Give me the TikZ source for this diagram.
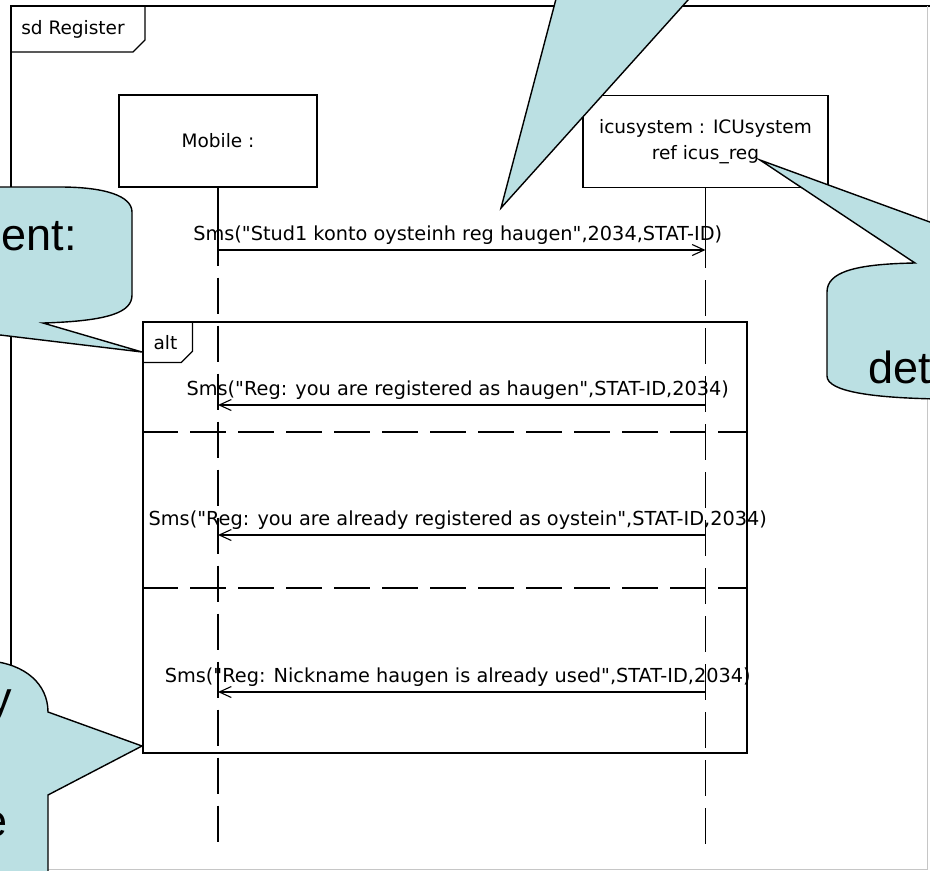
\documentclass[tikz,border=0pt]{standalone}
\usepackage{fontspec}
\setmainfont{DejaVu Sans}[Ligatures=TeXOff]
\newfontfamily\notefont{Liberation Sans}
\usetikzlibrary{arrows.meta, positioning, calc}
\definecolor{noteblue}{RGB}{187, 224, 227}

\begin{document}
\begin{tikzpicture}[x=1pt, y=-1pt,
  every node/.style={font=\fontsize{18.5}{26}\selectfont},
  umlline/.style={line width=1.2pt},
  lifebox/.style={draw, line width=1.2pt, minimum height=92pt, align=center, inner sep=0pt},
  fragbox/.style={draw, line width=1.2pt, inner sep=0pt},
  dashlife/.style={line width=1.2pt, dash pattern=on 36pt off 12pt},
  msg/.style={line width=1.1pt, -{Straight Barb[length=12pt, width=11pt, line width=1.1pt]}},
  msglabel/.style={anchor=base, inner sep=0pt, yshift=10pt, xshift=-4pt, font=\fontsize{19.3}{26}\selectfont},
  note/.style={draw, fill=noteblue, line width=1.4pt, line join=miter},
  notetext/.style={font=\notefont\fontsize{45}{52}\selectfont, inner sep=0pt}
]
\useasboundingbox (0,0) rectangle (930,871);
\fill[white] (0,0) rectangle (930,871);
\clip (0,0) rectangle (930,871);

% diagram frame
\draw[umlline] (11,869) -- (11,6) -- (940,6);
\draw[gray!45, line width=1pt] (11,869) -- (927,869) -- (927,6);
\draw[umlline] (11,52) -- (133,52) -- (145,40) -- (145,6);
\node (sdname) at (73,29) {sd Register};

% lifelines
\node[lifebox, minimum width=198pt] (mobile) at (218,141) {Mobile :};
\node[lifebox, minimum width=245pt] (icus) at (705.5,141.5) {icusystem : ICUsystem\\ref icus\_reg};
\coordinate (mobileEnd) at (mobile.south |- 0,850);
\coordinate (icusEnd) at (icus.south |- 0,850);
\draw[umlline] (mobile.south) -- ++(0,78) coordinate (mobileCut);
\draw[umlline] (icus.south) -- ++(0,80) coordinate (icusCut);
\draw[dashlife] ($(mobileCut)+(0,12)$) -- (mobileEnd);
\draw[dashlife] ($(icusCut)+(0,12)$) -- (icusEnd);

% messages
\coordinate (m1a) at (mobile.south |- 0,250);
\coordinate (m1b) at (icus.south |- 0,250);
\draw[msg] (m1a) -- node[msglabel] {Sms("Stud1 konto oysteinh reg haugen",2034,STAT-ID)} (m1b);

% alt fragment
\node[fragbox, minimum width=604pt, minimum height=431pt] (altfrag) at (445,537.5) {};
\draw[umlline] (altfrag.north west) ++(0,41) -- ++(39,0) -- ++(11,-11) -- ++(0,-30);
\node (altname) at (165.5,343) {alt};
\draw[dashlife] (altfrag.west |- 0,432) -- (altfrag.east |- 0,432);
\draw[dashlife] (altfrag.west |- 0,588) -- (altfrag.east |- 0,588);

\coordinate (m2a) at (mobile.south |- 0,405);
\coordinate (m2b) at (icus.south |- 0,405);
\draw[msg] (m2b) -- node[msglabel] {Sms("Reg: you are registered as haugen",STAT-ID,2034)} (m2a);
\coordinate (m3a) at (mobile.south |- 0,535);
\coordinate (m3b) at (icus.south |- 0,535);
\draw[msg] (m3b) -- node[msglabel] {Sms("Reg: you are already registered as oystein",STAT-ID,2034)} (m3a);
\coordinate (m4a) at (mobile.south |- 0,692);
\coordinate (m4b) at (icus.south |- 0,692);
\draw[msg] (m4b) -- node[msglabel] {Sms("Reg: Nickname haugen is already used",STAT-ID,2034)} (m4a);

% callouts
\draw[note] (501,208) -- (561,-20) -- (706,-20) -- cycle;
\draw[note] (142,352) -- (43,323) .. controls (110,321) and (132,312) .. (132,295)
  -- (132,212) .. controls (132,196) and (105,187) .. (60,187) -- (-300,187)
  -- (-300,323) -- (-100,323) -- cycle;
\node[notetext, anchor=base east] (entnote) at (77,250) {ent:};
\draw[note] (760,160) -- (915,263) .. controls (855,264) and (827,272) .. (827,292)
  -- (827,376) .. controls (827,392) and (875,398) .. (940,399) -- (1200,399)
  -- (1200,263) -- (1042,263) -- cycle;
\node[notetext, anchor=base west] (detnote) at (868,383) {det};
\draw[note] (142,746) -- (48,712) .. controls (48,684) and (25,664) .. (-10,661)
  -- (-300,661) -- (-300,1000) -- (48,1000) -- (48,795) -- cycle;
\node[notetext, anchor=base east] (ynote) at (12,713) {y};
\node[notetext, anchor=base east] (enote) at (8,836) {e};
\end{tikzpicture}
\end{document}
